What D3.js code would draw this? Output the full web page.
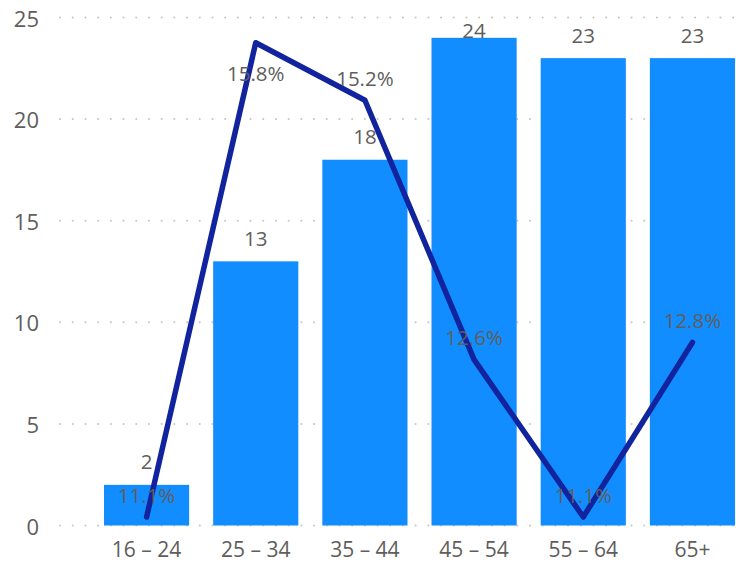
<!DOCTYPE html>
<html>
<head>
<meta charset="utf-8">
<script src="https://cdn.jsdelivr.net/npm/d3@7"></script>
<style>
  body { margin: 0; background: #fff; }
  text { font-family: "Segoe UI", "Open Sans", sans-serif; }
</style>
</head>
<body>
<div id="chart"></div>
<script>
'use strict'

// categories and series
const ageGroups = ['16 – 24', '25 – 34', '35 – 44', '45 – 54', '55 – 64', '65+'];
const counts = [2, 13, 18, 24, 23, 23];
const shares = [11.06, 15.76, 15.19, 12.62, 11.06, 12.79];
const yTicks = [0, 5, 10, 15, 20, 25];

const width = 736;
const height = 564;

const barColor = '#118DFF';
const lineColor = '#12239E';
const textColor = '#605E5C';

const svg = d3.select('#chart').append('svg')
  .attr('width', width)
  .attr('height', height);

const x = d3.scaleBand()
  .domain(ageGroups)
  .range([104, 735])
  .paddingInner(0.22)
  .paddingOuter(0);

const y = d3.scaleLinear()
  .domain([0, 25])
  .range([525.5, 17.5]);

// secondary (hidden) axis for the percentage line
const y2 = d3.scaleLinear()
  .domain([10.976, 16.01])
  .range([525.5, 17.5]);

// gridlines
svg.append('g')
  .selectAll('line')
  .data(yTicks)
  .join('line')
  .attr('x1', 60)
  .attr('x2', width)
  .attr('y1', d => y(d))
  .attr('y2', d => y(d))
  .attr('stroke', '#C8C6C4')
  .attr('stroke-width', 2)
  .attr('stroke-linecap', 'round')
  .attr('stroke-dasharray', '0.1 12.6');

// y axis labels
svg.append('g')
  .selectAll('text')
  .data(yTicks)
  .join('text')
  .attr('x', 39)
  .attr('y', d => y(d))
  .attr('text-anchor', 'end')
  .attr('dominant-baseline', 'central')
  .attr('font-size', 22)
  .attr('fill', textColor)
  .text(d => d);

// x axis labels
svg.append('g')
  .selectAll('text')
  .data(ageGroups)
  .join('text')
  .attr('x', d => x(d) + x.bandwidth() / 2)
  .attr('y', 549)
  .attr('text-anchor', 'middle')
  .attr('dominant-baseline', 'central')
  .attr('font-size', 21)
  .attr('fill', textColor)
  .text(d => d);

// bars
svg.append('g')
  .selectAll('rect')
  .data(counts)
  .join('rect')
  .attr('x', (d, i) => x(ageGroups[i]))
  .attr('y', d => y(d))
  .attr('width', x.bandwidth())
  .attr('height', d => y(0) - y(d))
  .attr('fill', barColor);

// line
const line = d3.line()
  .x((d, i) => x(ageGroups[i]) + x.bandwidth() / 2)
  .y(d => y2(d));

svg.append('path')
  .datum(shares)
  .attr('d', line)
  .attr('fill', 'none')
  .attr('stroke', lineColor)
  .attr('stroke-width', 5.5)
  .attr('stroke-linejoin', 'round')
  .attr('stroke-linecap', 'round');

// bar labels
svg.append('g')
  .selectAll('text')
  .data(counts)
  .join('text')
  .attr('x', (d, i) => x(ageGroups[i]) + x.bandwidth() / 2)
  .attr('y', d => Math.max(30, y(d) - 23.5))
  .attr('text-anchor', 'middle')
  .attr('dominant-baseline', 'central')
  .attr('font-size', 20.5)
  .attr('fill', textColor)
  .text(d => d);

// line labels
const fmt = d3.format('.1f');
svg.append('g')
  .selectAll('text')
  .data(shares)
  .join('text')
  .attr('x', (d, i) => x(ageGroups[i]) + x.bandwidth() / 2)
  .attr('y', d => {
    const above = y2(d) - 22.5;
    return above < 25 ? y2(d) + 30.5 : above;
  })
  .attr('text-anchor', 'middle')
  .attr('dominant-baseline', 'central')
  .attr('font-size', 20.5)
  .attr('fill', textColor)
  .text(d => fmt(d) + '%');
</script>
</body>
</html>
